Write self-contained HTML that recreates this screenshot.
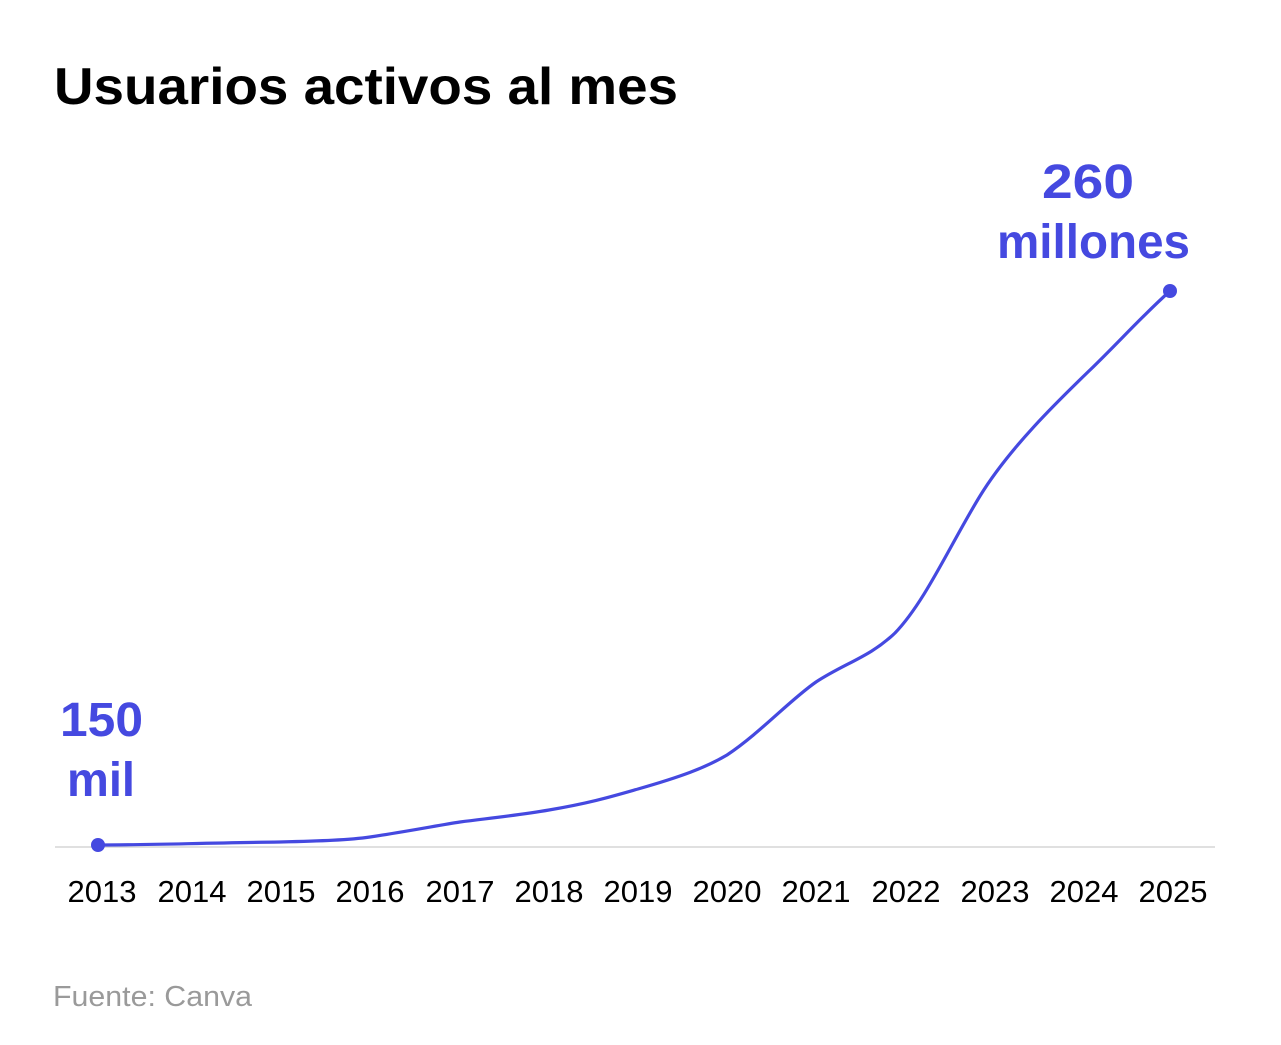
<!DOCTYPE html>
<html><head><meta charset="utf-8"><style>
html,body{margin:0;padding:0;background:#fff;}
body{width:1281px;height:1040px;overflow:hidden;}
</style></head><body>
<svg width="1281" height="1040" xmlns="http://www.w3.org/2000/svg" font-family="Liberation Sans, sans-serif">
<text x="54" y="104" font-size="52" font-weight="bold" fill="#000" textLength="624" lengthAdjust="spacingAndGlyphs">Usuarios activos al mes</text>
<line x1="55" y1="847" x2="1215" y2="847" stroke="#d6d6d6" stroke-width="1.5"/>
<path d="M98,845 C150,845 200,843 280,842 C320,841 350,840 370,837 C410,831 440,825 460,822 C500,817 520,815 549,810 C590,803 610,797 638,789 C680,777 705,768 727,755 C760,733 790,700 816,682 C845,663 870,657 895,633 C925,602 950,545 980,496 C1010,447 1060,399 1090,370 C1120,341 1140,318 1170,291" fill="none" stroke="#4549e0" stroke-width="3.2" stroke-linecap="round"/>
<circle cx="98" cy="845" r="7" fill="#4549e0"/>
<circle cx="1170" cy="291" r="7" fill="#4549e0"/>
<g fill="#4549e0" font-weight="bold" font-size="48">
<text x="60" y="736" textLength="83" lengthAdjust="spacingAndGlyphs">150</text>
<text x="67" y="796" textLength="68" lengthAdjust="spacingAndGlyphs">mil</text>
<text x="1042" y="198" textLength="92" lengthAdjust="spacingAndGlyphs">260</text>
<text x="997" y="258" textLength="193" lengthAdjust="spacingAndGlyphs">millones</text>
</g>
<g font-size="31" fill="#000" text-anchor="middle">
<text x="102" y="902">2013</text><text x="192" y="902">2014</text><text x="281" y="902">2015</text>
<text x="370" y="902">2016</text><text x="460" y="902">2017</text><text x="549" y="902">2018</text>
<text x="638" y="902">2019</text><text x="727" y="902">2020</text><text x="816" y="902">2021</text>
<text x="906" y="902">2022</text><text x="995" y="902">2023</text><text x="1084" y="902">2024</text>
<text x="1173" y="902">2025</text>
</g>
<text x="53" y="1006" font-size="29" fill="#9a9a9a" textLength="199" lengthAdjust="spacingAndGlyphs">Fuente: Canva</text>
</svg>
</body></html>
